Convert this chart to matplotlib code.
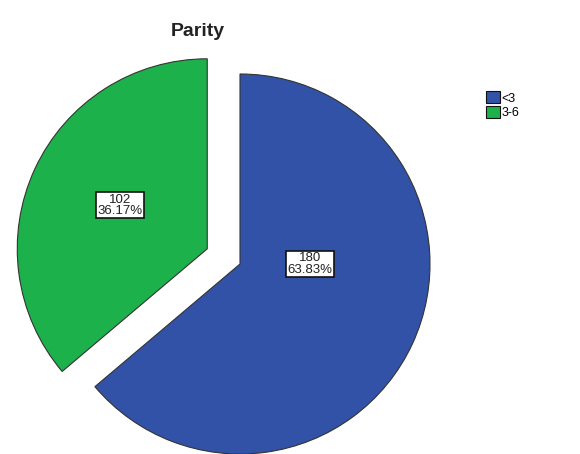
import matplotlib.pyplot as plt

plt.rcParams['font.family'] = ['Liberation Sans', 'DejaVu Sans']

labels = ['<3', '3-6']
counts = [180, 102]
percents = ['63.83%', '36.17%']
colors = ['#3152a6', '#1db14b']

fig = plt.figure(figsize=(5.8, 4.54), dpi=100)
ax = fig.add_axes([0, 0, 1, 1])

wedges, _ = ax.pie(counts, colors=colors, startangle=90, counterclock=False,
                   explode=[0, 0.19], radius=1.0,
                   wedgeprops=dict(edgecolor='#333333', linewidth=0.8))

# label boxes
lab_pos = [(0.37, 0.0), (-0.63, 0.31)]
for (x, y), n, p in zip(lab_pos, counts, percents):
    ax.text(x, y, '%d\n%s' % (n, p), ha='center', va='center', fontsize=9.5,
            linespacing=0.9, color='#222222',
            bbox=dict(boxstyle='square,pad=0.1', fc='white', ec='#111111', lw=1.2))

ax.set_xlim(-240 / 190, 340 / 190)
ax.set_ylim(-190 / 190, 264 / 190)
ax.set_aspect('auto')
ax.axis('off')

fig.text(198 / 580, 1 - 31 / 454, 'Parity', ha='center', va='center',
         fontsize=14, fontweight='bold', color='#222222')

leg = fig.legend(wedges, labels, loc='upper left', bbox_to_anchor=(480 / 580, 1 - 85 / 454),
                 frameon=False, fontsize=9, handlelength=1.1, handleheight=1.1,
                 handletextpad=0.15, labelspacing=0.1, borderpad=0)
for h in leg.legend_handles:
    h.set_edgecolor('#111111')

fig.savefig('out.png', dpi=100)
